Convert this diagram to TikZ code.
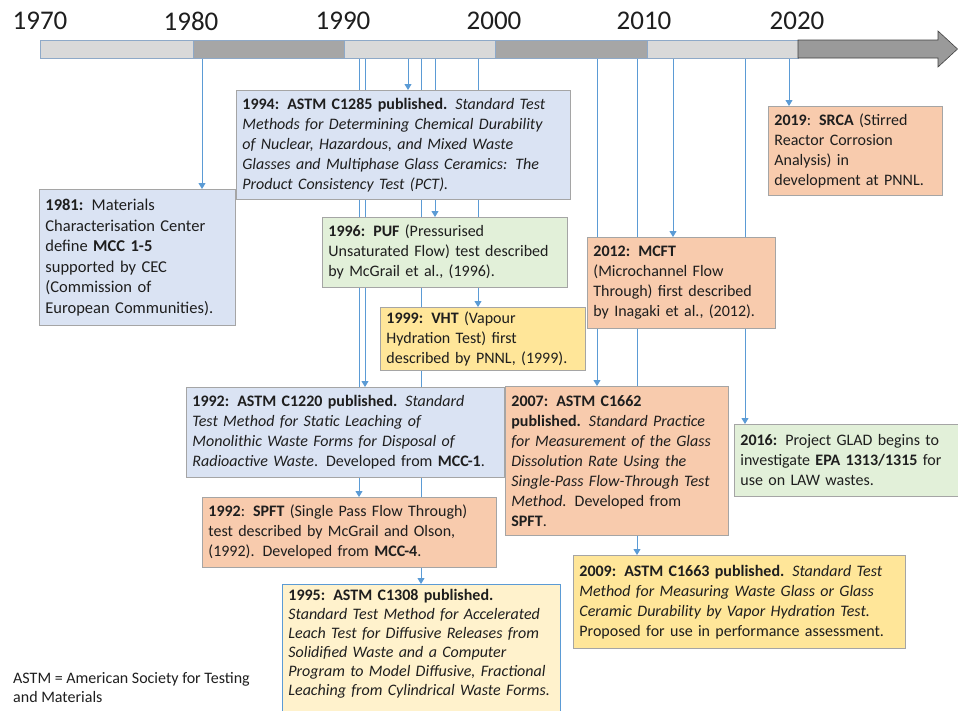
\documentclass[tikz,border=0pt]{standalone}
\usepackage{fontspec}
\setmainfont{Carlito}
\usetikzlibrary{arrows.meta,backgrounds}

\definecolor{lineblue}{HTML}{5B9BD5}
\definecolor{boxgray}{HTML}{A5A5A5}
\definecolor{barlight}{HTML}{D9D9D9}
\definecolor{bardark}{HTML}{A6A6A6}
\definecolor{barline}{HTML}{8EA9C8}
\definecolor{barend}{HTML}{9A9A9A}
\definecolor{barendline}{HTML}{404040}
\definecolor{fillblue}{HTML}{DAE3F3}
\definecolor{fillgreen}{HTML}{E2F0D9}
\definecolor{fillorange}{HTML}{F8CBAD}
\definecolor{fillyellow}{HTML}{FFE699}
\definecolor{fillcream}{HTML}{FFF2CC}
\definecolor{inkgray}{HTML}{1E1E1E}

\begin{document}
\begin{tikzpicture}[x=1pt,y=-1pt,>={Triangle[width=7pt,length=6pt]},
      event/.style={rectangle,draw=boxgray,line width=0.8pt,anchor=north west,
        align=left,inner xsep=6pt,inner ysep=0pt,text=inkgray,
        font=\fontsize{16}{20}\selectfont},
      yearlbl/.style={font=\fontsize{27}{30}\selectfont,text=inkgray},
      seg/.style={draw=barline,line width=0.6pt}]

    \useasboundingbox (0,0) rectangle (958,710);
    \clip (0,0) rectangle (958,710);

    % time bar
    \foreach \xa/\xb/\c in {40/193/barlight,193/344/bardark,344/495/barlight,
        495/647/bardark,647/798/barlight}
      \filldraw[seg,fill=\c] (\xa,40) rectangle (\xb,58);
    \filldraw[fill=barend,draw=barendline,line width=0.6pt] (798,40) -- (938,40)
      -- (938,31) -- (957.5,49) -- (938,67) -- (938,58) -- (798,58) -- cycle;

    \foreach \yr/\x in {1970/40,1980/191,1990/343,2000/494,2010/644,2020/797}
      \node[yearlbl] (l\yr) at (\x,21) {\yr};

    \foreach \n/\x in {1981/202,1992s/359,1992c/365,1994/408,1995/421,1996/435,
        1999/478,2007/597,2009/637,2012/673,2016/745,2019/789}
      \coordinate (y\n) at (\x,58);

    % events
    \node[event,fill=fillblue,text width=184pt,minimum height=136pt,
      font=\fontsize{16.5}{20.5}\selectfont] (b1981) at (39,189)
      {\textbf{1981:} Materials\\Characterisation Center\\define \textbf{MCC 1-5}\\
       supported by CEC\\(Commission of\\European Communities).};
    \node[event,fill=fillblue,text width=322pt,minimum height=109pt] (b1994) at (236,90)
      {\textbf{1994: ASTM C1285 published.} \textit{Standard Test}\\
       \textit{Methods for Determining Chemical Durability}\\
       \textit{of Nuclear, Hazardous, and Mixed Waste}\\
       \textit{Glasses and Multiphase Glass Ceramics: The}\\
       \textit{Product Consistency Test (PCT).}};
    \node[event,fill=fillgreen,text width=233pt,minimum height=70pt] (b1996) at (322,217)
      {\textbf{1996: PUF} (Pressurised\\Unsaturated Flow) test described\\
       by McGrail et al., (1996).};
    \node[event,fill=fillyellow,text width=193pt,minimum height=63pt] (b1999) at (380,307)
      {\textbf{1999: VHT} (Vapour\\Hydration Test) first\\described by PNNL, (1999).};
    \node[event,fill=fillorange,text width=176pt,minimum height=91pt] (b2012) at (587,237)
      {\textbf{2012: MCFT}\\(Microchannel Flow\\Through) first described\\
       by Inagaki et al., (2012).};
    \node[event,fill=fillorange,text width=162pt,minimum height=89pt] (b2019) at (768,106)
      {\textbf{2019}: \textbf{SRCA} (Stirred\\Reactor Corrosion\\Analysis) in\\
       development at PNNL.};
    \node[event,fill=fillblue,text width=306pt,minimum height=90pt] (b1992c) at (186,387)
      {\textbf{1992: ASTM C1220 published.} \textit{Standard}\\
       \textit{Test Method for Static Leaching of}\\
       \textit{Monolithic Waste Forms for Disposal of}\\
       \textit{Radioactive Waste}. Developed from \textbf{MCC-1}.};
    \node[event,fill=fillorange,text width=282pt,minimum height=70pt] (b1992s) at (202,497)
      {\textbf{1992}: \textbf{SPFT} (Single Pass Flow Through)\\
       test described by McGrail and Olson,\\(1992). Developed from \textbf{MCC-4}.};
    \node[event,fill=fillorange,text width=211pt,minimum height=149pt] (b2007) at (505,386)
      {\textbf{2007: ASTM C1662}\\\textbf{published.} \textit{Standard Practice}\\
       \textit{for Measurement of the Glass}\\\textit{Dissolution Rate Using the}\\
       \textit{Single-Pass Flow-Through Test}\\\textit{Method.} Developed from\\
       \textbf{SPFT}.};
    \node[event,fill=fillgreen,text width=213pt,minimum height=72pt] (b2016) at (734,424)
      {\textbf{2016:} Project GLAD begins to\\investigate \textbf{EPA 1313/1315} for\\
       use on LAW wastes.};
    \node[event,fill=fillyellow,text width=320pt,minimum height=93pt] (b2009) at (573,555)
      {\textbf{2009: ASTM C1663 published.} \textit{Standard Test}\\
       \textit{Method for Measuring Waste Glass or Glass}\\
       \textit{Ceramic Durability by Vapor Hydration Test.}\\
       Proposed for use in performance assessment.};
    \node[event,fill=fillcream,draw=lineblue,text width=266pt,minimum height=140pt,
      font=\fontsize{16}{19}\selectfont] (b1995) at (282,584)
      {\textbf{1995: ASTM C1308 published.}\\
       \textit{Standard Test Method for Accelerated}\\
       \textit{Leach Test for Diffusive Releases from}\\
       \textit{Solidified Waste and a Computer}\\
       \textit{Program to Model Diffusive, Fractional}\\
       \textit{Leaching from Cylindrical Waste Forms.}\\ \strut};

    \node[anchor=north west,align=left,inner sep=0pt,text=inkgray,
      font=\fontsize{16}{19}\selectfont] (note) at (13,672)
      {ASTM = American Society for Testing\\and Materials};

    % links from the time bar
    \begin{scope}[on background layer,
        every edge/.style={draw=lineblue,line width=0.9pt,->}]
      \path (y1981) edge (y1981 |- b1981.north)
        (y1992s) edge (y1992s |- b1992s.north)
        (y1992c) edge (y1992c |- b1992c.north)
        (y1994) edge (y1994 |- b1994.north)
        (y1995) edge (y1995 |- b1995.north)
        (y1996) edge (y1996 |- b1996.north)
        (y1999) edge (y1999 |- b1999.north)
        (y2007) edge (y2007 |- b2007.north)
        (y2009) edge (y2009 |- b2009.north)
        (y2012) edge (y2012 |- b2012.north)
        (y2016) edge (y2016 |- b2016.north)
        (y2019) edge (y2019 |- b2019.north);
    \end{scope}
\end{tikzpicture}
\end{document}
